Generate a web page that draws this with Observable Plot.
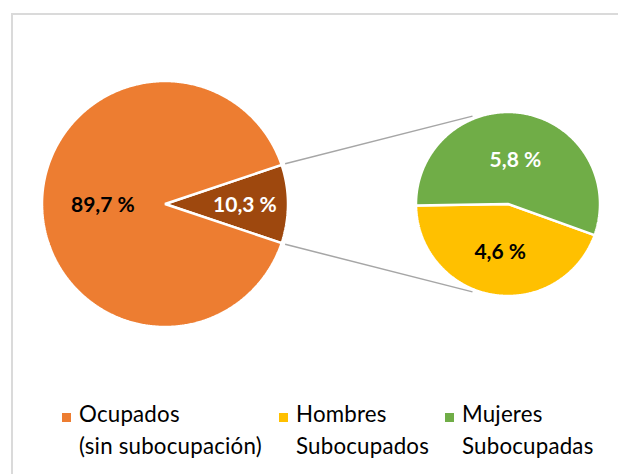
<!DOCTYPE html>
<html>
<head>
<meta charset="utf-8">
<script src="https://cdn.jsdelivr.net/npm/d3@7"></script>
<script src="https://cdn.jsdelivr.net/npm/@observablehq/plot@0.6"></script>
<style>
  html, body { margin: 0; padding: 0; background: #fff; }
  body { width: 618px; height: 474px; position: relative; overflow: hidden; font-family: Lato, "Open Sans", sans-serif; }
  #frame { position: absolute; left: 11px; top: 13px; width: 700px; height: 600px;
           border-top: 2px solid #dadada; border-left: 2px solid #dadada; }
  #chart { position: absolute; left: 0; top: 0; }
  #legend { position: absolute; top: 398px; left: 0; width: 618px; height: 76px; }
  .item { position: absolute; top: 0; display: flex; align-items: flex-start; }
  .sw { width: 9px; height: 9px; margin-top: 15px; margin-right: 8px; flex: none; }
  .lt { font-size: 22.3px; line-height: 32px; color: #000; white-space: pre; letter-spacing: 0.2px; }
</style>
</head>
<body>
<div id="frame"></div>
<div id="chart"></div>
<div id="legend"></div>
<script>
// ---- data ----
const mainCategories = ["Subocupados", "Ocupados (sin subocupación)"];
const mainValues = [10.3, 89.7];
const mainColors = ["#9E480E", "#ED7D31"];
const mainLabelColors = ["#ffffff", "#000000"];

const subCategories = ["Hombres Subocupados", "Mujeres Subocupadas"];
const subValues = [4.6, 5.8];
const subColors = ["#FFC000", "#70AD47"];
const subLabelColors = ["#000000", "#ffffff"];

const legendLabels = ["Ocupados\n(sin subocupación)", "Hombres\nSubocupados", "Mujeres\nSubocupadas"];
const legendColors = ["#ED7D31", "#FFC000", "#70AD47"];

// ---- layout ----
const W = 618, H = 395;
const main = {cx: 164.5, cy: 203.5, R: 123};
const sub = {cx: 507.5, cy: 203.5, R: 92};
const deg = Math.PI / 180;
const fmt = v => v.toFixed(1).replace(".", ",") + " %";

function buildSlices(values, colors, labelColors, pie, start, labelK) {
  const arcs = d3.pie().sort(null).startAngle(start).endAngle(start + 2 * Math.PI)(values);
  return arcs.map((a, i) => {
    const pts = [[pie.cx, pie.cy]];
    const n = Math.max(2, Math.ceil((a.endAngle - a.startAngle) / (0.5 * deg)));
    for (let j = 0; j <= n; j++) {
      const t = a.startAngle + (a.endAngle - a.startAngle) * j / n;
      pts.push([pie.cx + pie.R * Math.sin(t), pie.cy - pie.R * Math.cos(t)]);
    }
    const mid = (a.startAngle + a.endAngle) / 2;
    const k = labelK[i];
    return {
      pts, color: colors[i], arc: a,
      label: {x: pie.cx + k * pie.R * Math.sin(mid), y: pie.cy - k * pie.R * Math.cos(mid) + 1,
              text: fmt(values[i]), fill: labelColors[i]}
    };
  });
}

// main pie: first slice (Subocupados) centred on the right
const mainTotal = d3.sum(mainValues);
const mainStart = Math.PI / 2 - (mainValues[0] / mainTotal) * Math.PI;
const mainSlices = buildSlices(mainValues, mainColors, mainLabelColors, main, mainStart, [0.65, 0.505]);

// secondary pie: first slice (Hombres) centred slightly left of bottom
const subTotal = d3.sum(subValues);
const subStart = 189.4 * deg - (subValues[0] / subTotal) * Math.PI;
const subSlices = buildSlices(subValues, subColors, subLabelColors, sub, subStart, [0.52, 0.49]);

// connector lines from the exploded slice to the secondary pie
const b = mainSlices[0].arc;
const connectors = [
  {a1: b.startAngle, a2: Math.PI * 2 - 22 * deg},
  {a1: b.endAngle, a2: Math.PI + 22 * deg}
].map(c => ({
  x1: main.cx + 1.03 * main.R * Math.sin(c.a1), y1: main.cy - 1.03 * main.R * Math.cos(c.a1),
  x2: sub.cx + 1.03 * sub.R * Math.sin(c.a2), y2: sub.cy - 1.03 * sub.R * Math.cos(c.a2)
}));

const allSlices = [...mainSlices, ...subSlices];
const labels = allSlices.map(s => s.label);

const plot = Plot.plot({
  width: W, height: H, margin: 0,
  x: {domain: [0, W], range: [0, W], axis: null},
  y: {domain: [0, H], range: [0, H], axis: null},
  style: {fontFamily: "Lato, 'Open Sans', sans-serif", background: "transparent"},
  marks: [
    Plot.link(connectors, {x1: "x1", y1: "y1", x2: "x2", y2: "y2", stroke: "#a6a6a6", strokeWidth: 1.5}),
    ...allSlices.map(s => Plot.line(s.pts, {
      x: d => d[0], y: d => d[1], curve: "linear-closed",
      fill: s.color, stroke: "#ffffff", strokeWidth: 2.5, strokeLinejoin: "miter"
    })),
    Plot.text(labels, {x: "x", y: "y", text: "text", fill: "fill",
      fontSize: 21, fontWeight: "bold", textAnchor: "middle"})
  ]
});
document.getElementById("chart").appendChild(plot);

// legend
const legendLeft = [62, 279, 445];
const legend = document.getElementById("legend");
legendLabels.forEach((t, i) => {
  const it = document.createElement("div");
  it.className = "item";
  it.style.left = legendLeft[i] + "px";
  const sw = document.createElement("div");
  sw.className = "sw";
  sw.style.background = legendColors[i];
  const lt = document.createElement("div");
  lt.className = "lt";
  lt.textContent = t;
  it.appendChild(sw); it.appendChild(lt);
  legend.appendChild(it);
});
</script>
</body>
</html>
